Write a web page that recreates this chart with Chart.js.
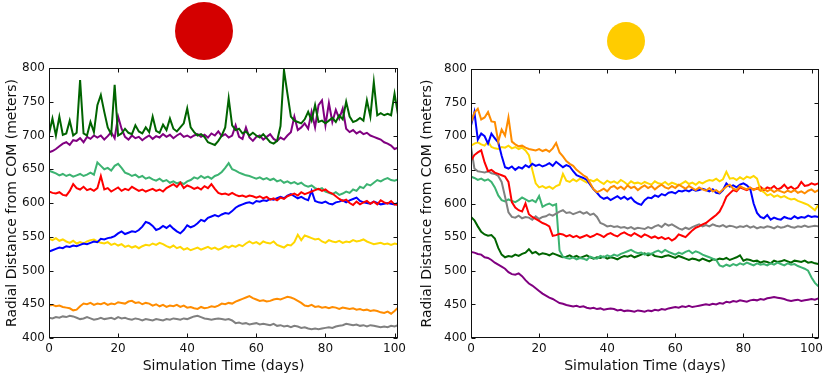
<!DOCTYPE html>
<html lang="en">
<head>
    <meta charset="UTF-8">
    <title>Radial distance from COM</title>
    <script src="https://cdn.jsdelivr.net/npm/chart.js@4.4.0/dist/chart.umd.min.js"></script>
    <style>
        body { margin: 0; background: #fff; width: 830px; height: 379px; position: relative; overflow: hidden; }
        .panel { position: absolute; top: 0; width: 415px; height: 379px; }
        .dot { position: absolute; border-radius: 50%; }
    </style>
</head>
<body>
    <div class="panel" style="left:0"><canvas id="leftChart" width="415" height="379"></canvas></div>
    <div class="panel" style="left:415px"><canvas id="rightChart" width="415" height="379"></canvas></div>
    <div class="dot" style="left:175px;top:2px;width:58px;height:58px;background:#d40000;"></div>
    <div class="dot" style="left:607px;top:22px;width:38px;height:38px;background:#ffcc00;"></div>
    <script>
        // one value per simulated day, starting at day 0
        // left panel (red marker)
        const leftDarkGreen = [
            702,725,700,728,701,703,722,700,704,782,
            703,700,720,705,745,760,735,712,702,775,
            700,703,710,704,702,715,706,703,712,705,
            728,707,704,716,708,725,710,706,712,718,
            740,712,705,700,702,698,690,688,686,692,
            700,712,755,715,708,710,703,706,700,704,
            700,697,702,696,690,688,692,714,797,762,
            728,722,720,718,724,735,722,745,720,722,
            718,722,726,720,730,724,750,728,720,722,
            726,722,752,728,779,730,733,730,732,730,
            762,731];
        const leftPurple = [
            675,677,680,684,688,690,686,693,692,696,
            690,698,695,700,697,700,694,699,705,696,
            728,710,698,694,700,696,698,693,697,700,
            695,699,697,702,698,701,696,700,703,698,
            700,697,700,702,698,701,697,703,700,706,
            699,702,697,700,715,698,695,712,697,692,
            698,700,694,698,702,695,692,697,694,700,
            705,728,708,712,718,710,735,712,745,752,
            715,748,720,738,725,740,710,705,708,703,
            706,702,704,700,698,696,694,690,688,685,
            680,682];
        const leftSeaGreen = [
            648,646,644,641,643,640,642,639,641,643,
            640,642,645,642,660,655,650,652,648,655,
            658,652,645,643,640,642,638,640,636,638,
            635,633,636,632,634,630,632,629,631,628,
            632,634,638,636,640,637,639,636,640,642,
            646,652,659,650,648,645,643,641,640,638,
            636,638,635,637,634,636,632,634,630,632,
            629,631,628,630,626,624,626,622,620,622,
            617,615,613,616,612,614,617,615,620,618,
            624,622,628,626,630,634,632,635,637,634,
            633,635];
        const leftRed = [
            617,615,614,616,612,611,618,628,622,620,
            624,619,621,618,622,640,620,622,617,620,
            623,618,621,619,624,621,618,620,617,619,
            621,618,620,617,622,625,628,624,630,622,
            626,624,621,623,620,625,622,628,621,615,
            613,614,612,615,612,610,611,609,611,610,
            608,610,607,609,605,607,604,608,606,610,
            612,614,611,616,613,615,617,619,621,618,
            620,616,614,610,606,603,605,600,597,602,
            598,601,603,599,602,598,604,601,599,603,
            598,597];
        const leftBlue = [
            528,530,532,534,533,536,535,537,536,538,
            540,539,541,543,542,547,546,548,549,551,
            555,558,554,556,558,557,560,565,572,570,
            566,560,562,566,563,567,562,558,555,560,
            567,564,566,570,575,573,578,580,582,580,
            583,585,584,588,593,596,598,600,601,599,
            603,602,604,603,606,605,607,609,607,611,
            613,610,607,609,606,604,618,603,601,600,
            602,599,598,601,602,604,601,604,606,608,
            603,601,600,599,602,600,598,599,600,599,
            598,600];
        const leftYellow = [
            547,545,548,544,546,543,541,544,540,542,
            540,543,545,546,543,541,540,542,538,540,
            537,539,535,537,534,536,533,536,538,537,
            540,538,541,539,536,534,537,533,535,531,
            533,530,532,534,531,533,535,532,534,531,
            533,536,534,537,535,538,536,540,543,540,
            542,539,543,541,540,543,538,536,534,538,
            537,542,553,545,552,550,548,546,547,543,
            541,545,543,542,544,541,543,542,545,543,
            544,546,543,541,539,540,541,539,540,538,
            540,539];
        const leftOrange = [
            448,449,447,448,446,445,444,441,442,447,
            451,450,452,449,451,450,452,449,451,450,
            453,452,451,454,455,452,453,450,452,451,
            448,450,447,449,446,448,447,449,446,448,
            445,446,444,443,446,444,445,447,446,448,
            451,450,452,451,454,456,458,460,462,459,
            457,455,456,454,455,457,458,457,459,461,
            460,458,455,452,448,447,449,446,447,445,
            446,444,446,445,443,445,444,443,444,442,
            443,441,442,440,441,440,438,437,439,436,
            440,445];
        const leftGray = [
            430,429,431,430,432,431,433,432,430,428,
            429,431,429,427,428,430,428,429,430,428,
            431,429,430,428,427,429,428,426,428,427,
            426,428,427,426,428,427,429,428,427,429,
            428,430,432,433,431,429,428,427,428,429,
            428,427,428,426,422,423,421,422,420,421,
            422,420,421,420,419,421,418,419,417,418,
            416,418,417,415,416,414,413,414,413,414,
            415,416,415,417,418,419,421,420,419,420,
            418,419,417,419,418,417,416,417,416,418,
            417,419];

        // right panel (yellow marker)
        const rightOrange = [
            720,735,741,725,728,736,722,721,692,710,
            701,728,692,688,685,686,683,681,680,679,
            681,678,680,677,682,690,676,670,663,659,
            656,650,646,642,639,630,621,617,619,622,
            618,624,626,622,625,621,627,623,625,620,
            624,627,623,626,621,625,628,624,622,626,
            623,628,625,622,626,623,620,624,621,619,
            623,618,620,616,621,625,628,622,620,626,
            623,621,624,620,623,619,622,618,621,617,
            620,618,616,619,617,620,616,618,615,619,
            621,617,620];
        const rightBlue = [
            716,736,695,704,700,689,704,697,691,671,
            654,652,655,650,654,652,657,654,659,656,
            658,655,657,660,656,662,658,654,657,655,
            648,642,640,638,635,628,621,616,610,607,
            609,605,608,611,607,610,606,609,603,600,
            598,605,609,608,612,610,614,612,616,617,
            615,619,618,620,618,621,619,620,622,620,
            618,621,616,615,620,630,625,627,624,628,
            630,627,622,600,586,580,578,583,576,579,
            577,576,580,578,577,581,578,580,579,582,
            580,581,580];
        const rightYellow = [
            686,689,691,688,686,692,684,682,681,684,
            683,686,682,684,681,683,679,672,650,630,
            624,626,623,625,622,626,628,644,634,632,
            636,633,637,634,631,635,633,636,632,629,
            634,631,633,630,635,632,628,633,630,631,
            629,632,630,628,633,630,629,632,628,631,
            629,627,630,633,629,631,628,632,630,633,
            635,634,637,633,636,647,637,638,635,639,
            636,640,638,641,637,620,617,612,614,610,
            612,609,611,608,606,607,604,602,600,598,
            594,590,598];
        const rightRed = [
            664,672,676,679,661,648,650,646,644,642,
            640,632,602,594,590,588,600,584,580,577,
            574,571,569,566,552,553,555,554,551,553,
            550,552,549,551,553,550,552,555,553,550,
            554,556,553,551,555,557,554,552,556,553,
            550,554,552,549,551,548,550,547,549,545,
            548,554,552,550,555,560,564,566,569,571,
            575,579,583,588,598,610,615,620,618,624,
            622,620,623,621,622,625,620,624,622,626,
            621,623,628,622,625,621,624,632,626,627,
            630,628,630];
        const rightGray = [
            684,652,648,647,646,648,645,644,641,632,
            610,587,580,579,582,578,580,579,576,581,
            577,580,581,584,582,585,588,590,586,587,
            584,586,588,585,587,583,585,580,571,569,
            566,567,565,566,564,565,563,565,562,564,
            563,562,565,563,566,568,565,570,567,569,
            566,563,561,564,562,565,567,569,566,568,
            566,569,567,566,568,565,567,566,564,566,
            565,567,564,566,563,565,564,566,565,563,
            566,564,565,567,565,564,566,565,567,565,
            566,567,566];
        const rightSeaGreen = [
            640,638,635,637,634,636,632,624,612,605,
            603,606,604,602,605,609,606,603,605,602,
            611,595,598,600,597,599,530,521,519,518,
            520,517,519,518,516,521,519,518,522,520,
            523,521,524,522,525,527,529,531,528,526,
            527,524,526,525,528,530,527,531,528,526,
            524,527,525,528,530,526,529,527,524,522,
            520,518,516,508,506,509,507,510,508,511,
            509,512,510,508,511,509,510,508,511,509,
            512,510,508,511,509,510,507,505,503,500,
            490,482,477];
        const rightDarkGreen = [
            580,575,566,558,554,552,553,548,534,524,
            520,522,521,524,522,525,527,532,526,528,
            524,526,525,523,526,524,522,520,521,523,
            520,522,519,521,523,520,518,520,519,521,
            518,520,519,517,520,522,521,523,520,522,
            524,526,523,525,522,521,520,522,523,521,
            519,522,520,518,516,518,517,515,518,516,
            514,517,516,518,517,519,516,518,520,523,
            515,517,516,514,515,512,514,513,511,515,
            513,514,516,514,512,515,514,513,515,512,
            513,511,510];
        const rightPurple = [
            528,527,525,524,520,519,516,512,509,506,
            503,498,495,494,496,492,486,481,478,474,
            470,466,463,460,458,455,452,451,449,448,
            447,448,446,447,445,444,445,443,444,442,
            443,444,443,441,442,440,441,440,439,441,
            440,439,441,440,442,441,443,442,444,445,
            446,445,447,446,448,446,447,448,449,450,
            449,451,450,452,451,454,453,455,454,456,
            455,454,456,457,456,458,457,459,460,461,
            460,459,458,456,455,456,457,455,456,457,
            458,457,459];

        const xTickStep = 20;
        const yMin = 400, yMax = 800, yTickStep = 50;

        const tickFont = { family: 'DejaVu Sans', size: 12 };
        const titleFont = { family: 'DejaVu Sans', size: 14 };

        // box frame with inward ticks on all four sides
        const frame = {
            id: 'frame',
            afterDraw(chart) {
                const { ctx, chartArea: a, scales: { x, y } } = chart;
                const L = Math.round(a.left) + 0.5, R = Math.round(a.right) - 0.5;
                const T = Math.round(a.top) + 0.5, B = Math.round(a.bottom) - 0.5;
                ctx.save();
                ctx.strokeStyle = '#111';
                ctx.lineWidth = 1;
                ctx.beginPath();
                x.ticks.forEach(t => {
                    const px = Math.round(x.getPixelForValue(t.value)) + 0.5;
                    ctx.moveTo(px, B); ctx.lineTo(px, B - 4);
                    ctx.moveTo(px, T); ctx.lineTo(px, T + 4);
                });
                y.ticks.forEach(t => {
                    const py = Math.round(y.getPixelForValue(t.value)) + 0.5;
                    ctx.moveTo(L, py); ctx.lineTo(L + 4, py);
                    ctx.moveTo(R, py); ctx.lineTo(R - 4, py);
                });
                ctx.stroke();
                ctx.strokeRect(L, T, R - L, B - T);
                ctx.restore();
            }
        };

        function makeChart(id, series, xMax, box) {
            return new Chart(document.getElementById(id), {
                type: 'line',
                data: {
                    datasets: series.map(s => ({
                        data: s.values.map((v, i) => ({ x: i, y: v })),
                        borderColor: s.color,
                        borderWidth: 2,
                        pointRadius: 0,
                        fill: false,
                        tension: 0
                    }))
                },
                options: {
                    responsive: false,
                    animation: false,
                    events: [],
                    layout: { padding: { left: 0, right: box.right, top: box.top, bottom: 0 } },
                    plugins: { legend: { display: false }, tooltip: { enabled: false } },
                    scales: {
                        x: {
                            type: 'linear', min: 0, max: xMax,
                            afterFit: s => { s.height = box.bottom; },
                            grid: { display: false, drawTicks: false },
                            border: { display: false },
                            ticks: { stepSize: xTickStep, includeBounds: false, padding: 4, maxRotation: 0, color: '#111', font: tickFont },
                            title: { display: true, text: 'Simulation Time (days)', color: '#111', font: titleFont, padding: { top: 0, bottom: 4 } }
                        },
                        y: {
                            min: yMin, max: yMax,
                            afterFit: s => { s.width = box.left; },
                            grid: { display: false, drawTicks: false },
                            border: { display: false },
                            ticks: { stepSize: yTickStep, padding: 4, color: '#111', font: tickFont },
                            title: { display: true, text: 'Radial Distance from COM (meters)', color: '#111', font: titleFont, padding: { top: 4, bottom: 0 } }
                        }
                    }
                },
                plugins: [frame]
            });
        }

        makeChart('leftChart', [
            { values: leftDarkGreen, color: '#006400' },
            { values: leftPurple, color: '#800080' },
            { values: leftRed, color: '#ff0000' },
            { values: leftSeaGreen, color: '#3cb371' },
            { values: leftBlue, color: '#0000ff' },
            { values: leftYellow, color: '#ffd700' },
            { values: leftOrange, color: '#ff8c00' },
            { values: leftGray, color: '#808080' }
        ], 101, { left: 49, right: 17, top: 68, bottom: 41 });

        makeChart('rightChart', [
            { values: rightOrange, color: '#ff8c00' },
            { values: rightBlue, color: '#0000ff' },
            { values: rightYellow, color: '#ffd700' },
            { values: rightRed, color: '#ff0000' },
            { values: rightGray, color: '#808080' },
            { values: rightSeaGreen, color: '#3cb371' },
            { values: rightDarkGreen, color: '#006400' },
            { values: rightPurple, color: '#800080' }
        ], 102.2, { left: 56, right: 11, top: 69, bottom: 41 });
    </script>
</body>
</html>
